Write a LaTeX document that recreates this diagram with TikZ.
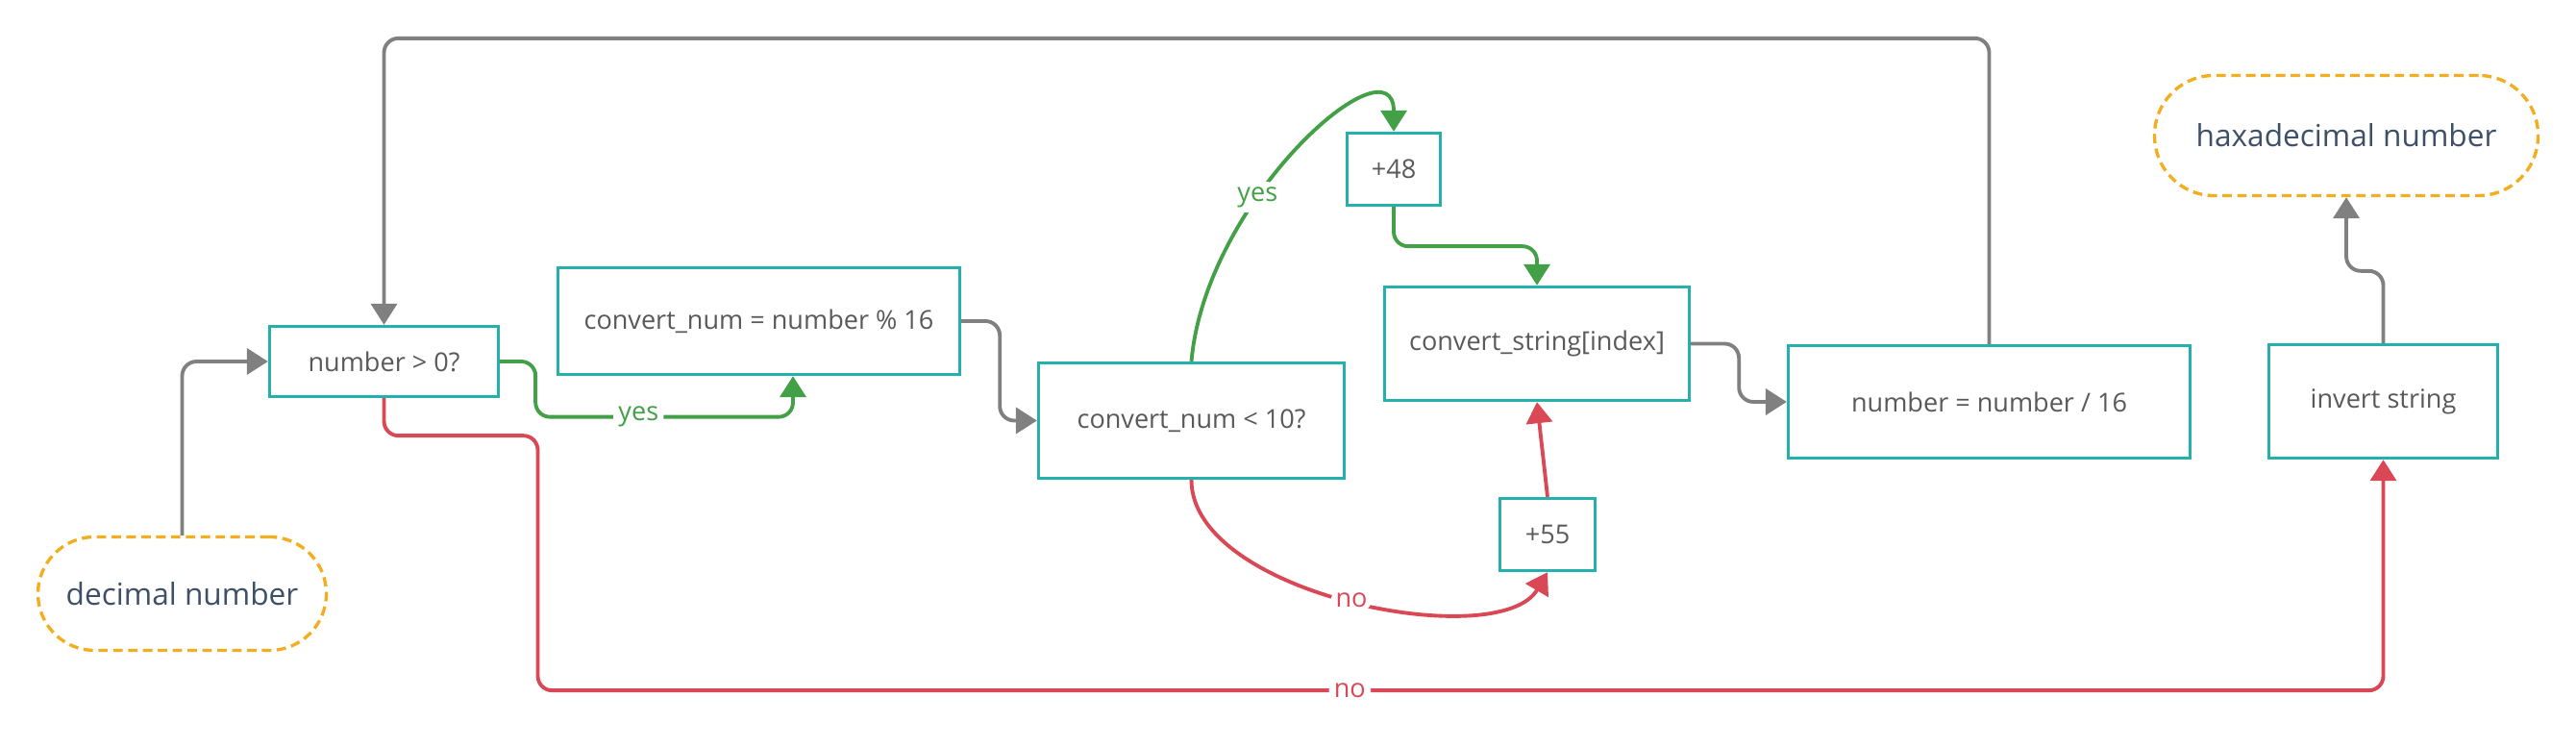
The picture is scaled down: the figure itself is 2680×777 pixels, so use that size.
\documentclass[tikz,border=0pt]{standalone}
\usepackage{fontspec}
\setmainfont{Open Sans}
\usetikzlibrary{arrows.meta,calc}
\definecolor{boxteal}{RGB}{38,176,173}
\definecolor{boxtext}{RGB}{89,89,89}
\definecolor{termorange}{RGB}{242,174,30}
\definecolor{termtext}{RGB}{62,80,104}
\definecolor{linegray}{RGB}{128,128,128}
\definecolor{yesgreen}{RGB}{67,160,71}
\definecolor{nored}{RGB}{219,72,85}
\begin{document}
\begin{tikzpicture}[x=0.1mm,y=-0.1mm,
  box/.style={draw=boxteal, line width=0.95pt, text=boxtext, inner sep=0pt, font=\fontsize{7.7}{9}\selectfont},
  term/.style={draw=termorange, dash pattern=on 2.8pt off 1.6pt, line width=0.95pt, rounded corners=5.9mm, text=termtext, inner sep=0pt, font=\fontsize{9}{11}\selectfont},
  flow/.style={line width=1.1pt, rounded corners=1.5mm, -{Triangle[length=2.2mm,width=2.7mm]}},
  lbl/.style={fill=white, inner sep=1.5pt, font=\fontsize{7.7}{9}\selectfont}]
\useasboundingbox (0,0) rectangle (2680,777);
\node (dec) at (189.5,617.5) [term, minimum width=30mm, minimum height=11.8mm] {decimal number};
\node (n0) at (399.5,376) [box, minimum width=23.8mm, minimum height=7.3mm] {number > 0?};
\node (cmod) at (789.5,334) [box, minimum width=41.8mm, minimum height=11.1mm] {convert\_num = number \% 16};
\node (c10) at (1239.5,437.5) [box, minimum width=31.8mm, minimum height=12mm] {convert\_num < 10?};
\node (p48) at (1450,176) [box, minimum width=9.7mm, minimum height=7.5mm] {+48};
\node (cstr) at (1599,357.5) [box, minimum width=31.7mm, minimum height=11.8mm] {convert\_string[index]};
\node (p55) at (1610,556) [box, minimum width=9.9mm, minimum height=7.5mm] {+55};
\node (ndiv) at (2069.5,418) [box, minimum width=41.8mm, minimum height=11.7mm] {number = number / 16};
\node (inv) at (2479.5,417.5) [box, minimum width=23.8mm, minimum height=11.8mm] {invert string};
\node (hex) at (2441,141) [term, minimum width=39.9mm, minimum height=12.5mm, rounded corners=6.2mm] {haxadecimal number};
\coordinate (yesbend) at ($(cmod.south)+(35.5,42.5)$);
\coordinate (cmodin) at ($(cmod.south)+(35.5,0)$);
\draw [flow, linegray] (dec.north) |- (n0.west);
\draw [flow, yesgreen] (n0.east) -- ++(37,0) |- node[lbl, pos=0.7] {yes} (yesbend) -- (cmodin);
\draw [flow, nored] (n0.south) -- ++(0,39) -- ++(160,0) -- ++(0,265) -| node[lbl, pos=0.22] {no} (inv.south);
\draw [flow, linegray] (cmod.east) -- ++(40,0) |- (c10.west);
\draw [flow, yesgreen] (c10.north) .. controls +(15,-170) and +(0,-100) .. node[lbl, pos=0.36] {yes} (p48.north);
\draw [flow, yesgreen] (p48.south) -- ++(0,41) -| (cstr.north);
\draw [flow, nored] (c10.south) .. controls +(0,120) and +(-50,85) .. node[lbl, pos=0.5] {no} (p55.south);
\draw [flow, nored] (p55.north) -- (cstr.south);
\draw [flow, linegray] (cstr.east) -- ++(50,0) |- (ndiv.west);
\draw [flow, linegray] (ndiv.north) -- ++(0,-318) -| (n0.north);
\draw [flow, linegray] (inv.north) -- ++(0,-75) -| (hex.south);
\end{tikzpicture}
\end{document}
